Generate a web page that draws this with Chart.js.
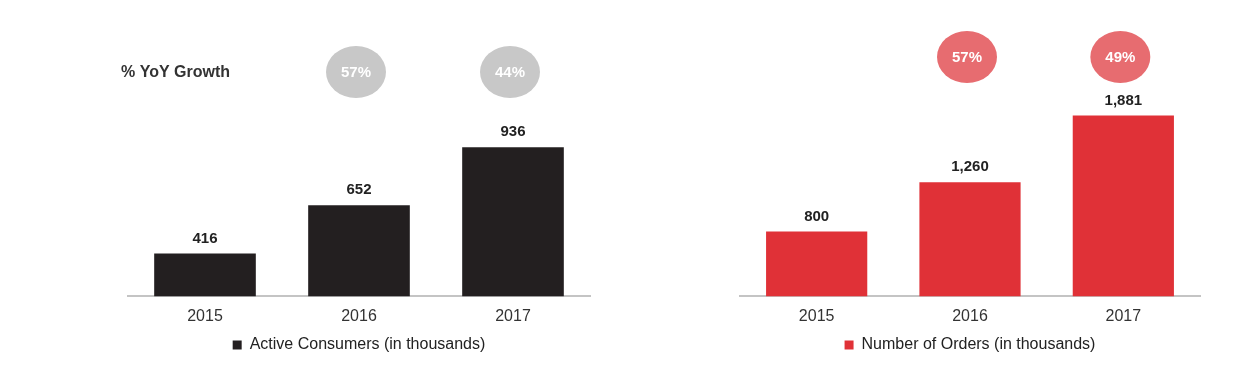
<!DOCTYPE html>
<html>
<head>
<meta charset="utf-8">
<script src="https://cdn.jsdelivr.net/npm/chart.js@4.4.1/dist/chart.umd.min.js"></script>
<style>
  body { margin: 0; background: #fff; }
  .wrap { position: absolute; top: 0; width: 621px; height: 378px; }
  #left-wrap { left: 0; }
  #right-wrap { left: 621px; }
</style>
</head>
<body>
<div class="wrap" id="left-wrap"><canvas id="consumers"></canvas></div>
<div class="wrap" id="right-wrap"><canvas id="orders"></canvas></div>
<script>
  const years = ['2015', '2016', '2017'];
  const consumers = [416, 652, 936];
  const orders = [800, 1260, 1881];
  const consumerGrowth = ['', '57%', '44%'];
  const orderGrowth = ['', '57%', '49%'];

  const FONT = "'Liberation Sans', Arial, sans-serif";

  // value labels above bars + growth bubbles
  function overlay(growth, bubbleColor, bubbleY, title) {
    return {
      id: 'overlay',
      afterDatasetsDraw(chart) {
        const ctx = chart.ctx;
        const meta = chart.getDatasetMeta(0);
        const data = chart.data.datasets[0].data;
        ctx.save();
        ctx.textAlign = 'center';
        ctx.textBaseline = 'middle';
        ctx.font = 'bold 15px ' + FONT;
        ctx.fillStyle = '#222';
        meta.data.forEach((bar, i) => {
          ctx.fillText(data[i].toLocaleString('en-US'), bar.x, bar.y - 15);
        });
        meta.data.forEach((bar, i) => {
          if (!growth[i]) return;
          ctx.fillStyle = bubbleColor;
          ctx.beginPath();
          ctx.ellipse(bar.x - 3, bubbleY, 30, 26, 0, 0, Math.PI * 2);
          ctx.fill();
          ctx.fillStyle = '#fff';
          ctx.font = 'bold 15px ' + FONT;
          ctx.fillText(growth[i], bar.x - 3, bubbleY + 1);
        });
        if (title) {
          ctx.textAlign = 'left';
          ctx.fillStyle = '#333';
          ctx.font = 'bold 16px ' + FONT;
          ctx.fillText(title, 121, bubbleY + 1);
        }
        ctx.restore();
      }
    };
  }

  function makeChart(el, label, values, color, min, max, pad, plugin) {
    return new Chart(document.getElementById(el), {
      type: 'bar',
      data: {
        labels: years,
        datasets: [{
          label: label,
          data: values,
          backgroundColor: color,
          borderWidth: 0,
          barPercentage: 1,
          categoryPercentage: 0.66
        }]
      },
      options: {
        responsive: true,
        maintainAspectRatio: false,
        animation: false,
        layout: { padding: pad },
        plugins: {
          legend: {
            position: 'bottom',
            labels: {
              boxWidth: 9,
              boxHeight: 9,
              color: '#222',
              padding: 0,
              font: { family: FONT, size: 16 }
            }
          },
          tooltip: { enabled: false }
        },
        scales: {
          x: {
            grid: { display: false, drawTicks: false },
            border: { display: true, color: '#c4c4c4', width: 2 },
            ticks: { color: '#333', padding: 14, font: { family: FONT, size: 16, lineHeight: 0.8 } }
          },
          y: {
            display: false,
            min: min,
            max: max
          }
        }
      },
      plugins: [plugin]
    });
  }

  makeChart('consumers', 'Active Consumers (in thousands)', consumers, '#231f20',
    207, 1460, { left: 128, right: 31, top: 40, bottom: 15 },
    overlay(consumerGrowth, '#c8c8c8', 72, '% YoY Growth'));

  makeChart('orders', 'Number of Orders (in thousands)', orders, '#e03137',
    199, 2583, { left: 119, right: 42, top: 40, bottom: 15 },
    overlay(orderGrowth, '#e76c70', 57, null));
</script>
</body>
</html>
